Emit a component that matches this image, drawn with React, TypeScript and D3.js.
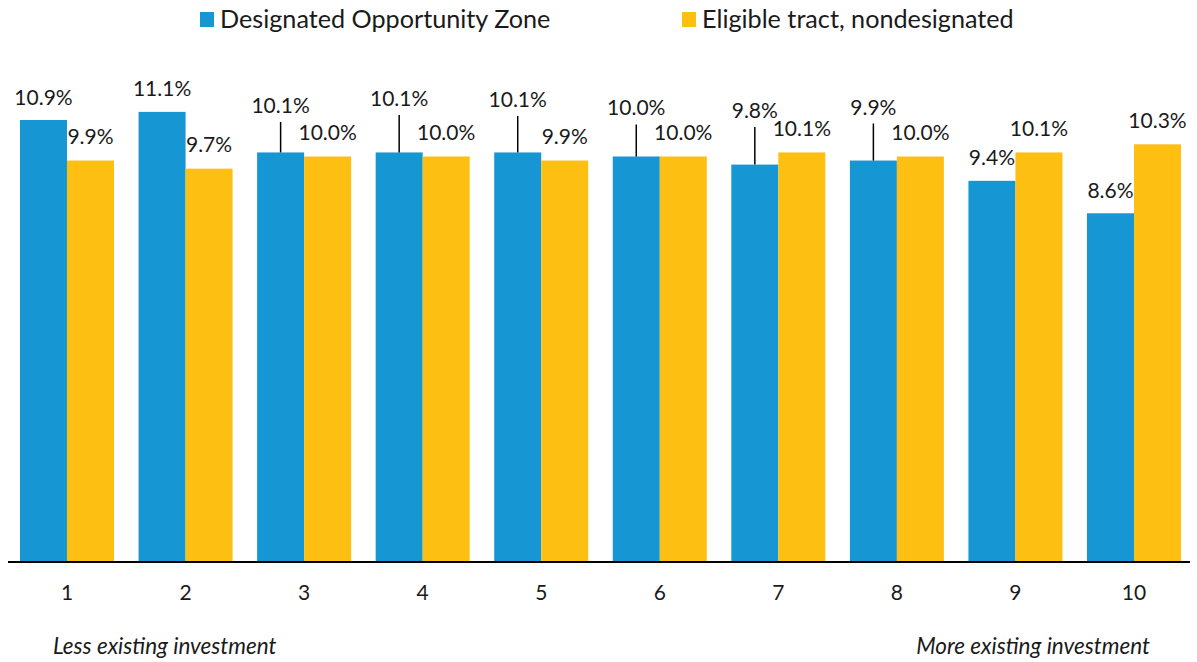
import React from "react";
import * as d3 from "d3";

const categories = ["1", "2", "3", "4", "5", "6", "7", "8", "9", "10"];
const designated = [10.9, 11.1, 10.1, 10.1, 10.1, 10.0, 9.8, 9.9, 9.4, 8.6];
const eligible = [9.9, 9.7, 10.0, 10.0, 9.9, 10.0, 10.1, 10.0, 10.1, 10.3];
const seriesNames = ["Designated Opportunity Zone", "Eligible tract, nondesignated"];
const axisNotes = ["Less existing investment", "More existing investment"];
// label lift (in px above normal position) for designated labels that use leader lines
const leaderLift = [0, 0, 24, 31, 30, 25.5, 31, 30.5, 0, 0];

const BLUE = "#1696d2";
const YELLOW = "#fdbf11";
const W = 1197;
const H = 662;

export default function App() {
  const baseY = 562;
  const x = d3.scaleBand<string>().domain(categories).range([20, 1181]).paddingInner(0.207).paddingOuter(0);
  const bw = x.bandwidth() / 2;
  const y = d3.scaleLinear().domain([0, 10.9]).range([baseY, 120]);
  const font = "Lato, 'Open Sans', sans-serif";
  const fmt = (v: number) => v.toFixed(1) + "%";
  const ink = "#1a1a1a";

  return (
    <svg width={W} height={H} style={{ position: "absolute", left: 0, top: 0, background: "#fff" }} fontFamily={font}>
      {/* legend */}
      <rect x={200} y={12} width={14} height={15} fill={BLUE} />
      <text x={220} y={28} fontSize={25.2} fill={ink}>{seriesNames[0]}</text>
      <rect x={682} y={12} width={14} height={15} fill={YELLOW} />
      <text x={702} y={28} fontSize={25.2} fill={ink}>{seriesNames[1]}</text>

      {categories.map((c, i) => {
        const x0 = x(c)!;
        const yb = y(designated[i]);
        const yy = y(eligible[i]);
        const lift = leaderLift[i];
        const blueLabelY = yb - 15.5 - lift;
        return (
          <g key={c}>
            <rect x={x0} y={yb} width={bw} height={baseY - yb} fill={BLUE} />
            <rect x={x0 + bw} y={yy} width={bw} height={baseY - yy} fill={YELLOW} />
            {lift > 0 && (
              <line x1={x0 + bw / 2} x2={x0 + bw / 2} y1={blueLabelY + 9} y2={yb} stroke="#000" strokeWidth={1.5} />
            )}
            <text x={x0 + bw / 2} y={blueLabelY} textAnchor="middle" fontSize={21} fill={ink}>{fmt(designated[i])}</text>
            <text x={x0 + bw * 1.5} y={yy - 16.5} textAnchor="middle" fontSize={21} fill={ink}>{fmt(eligible[i])}</text>
            <text x={x0 + bw} y={600} textAnchor="middle" fontSize={21} fill={ink}>{c}</text>
          </g>
        );
      })}

      <line x1={8} x2={1190} y1={baseY} y2={baseY} stroke="#000" strokeWidth={2} />

      <text x={53} y={654} fontSize={22.5} fontStyle="italic" fill={ink}>{axisNotes[0]}</text>
      <text x={1150} y={654} fontSize={22.5} fontStyle="italic" textAnchor="end" fill={ink}>{axisNotes[1]}</text>
    </svg>
  );
}
